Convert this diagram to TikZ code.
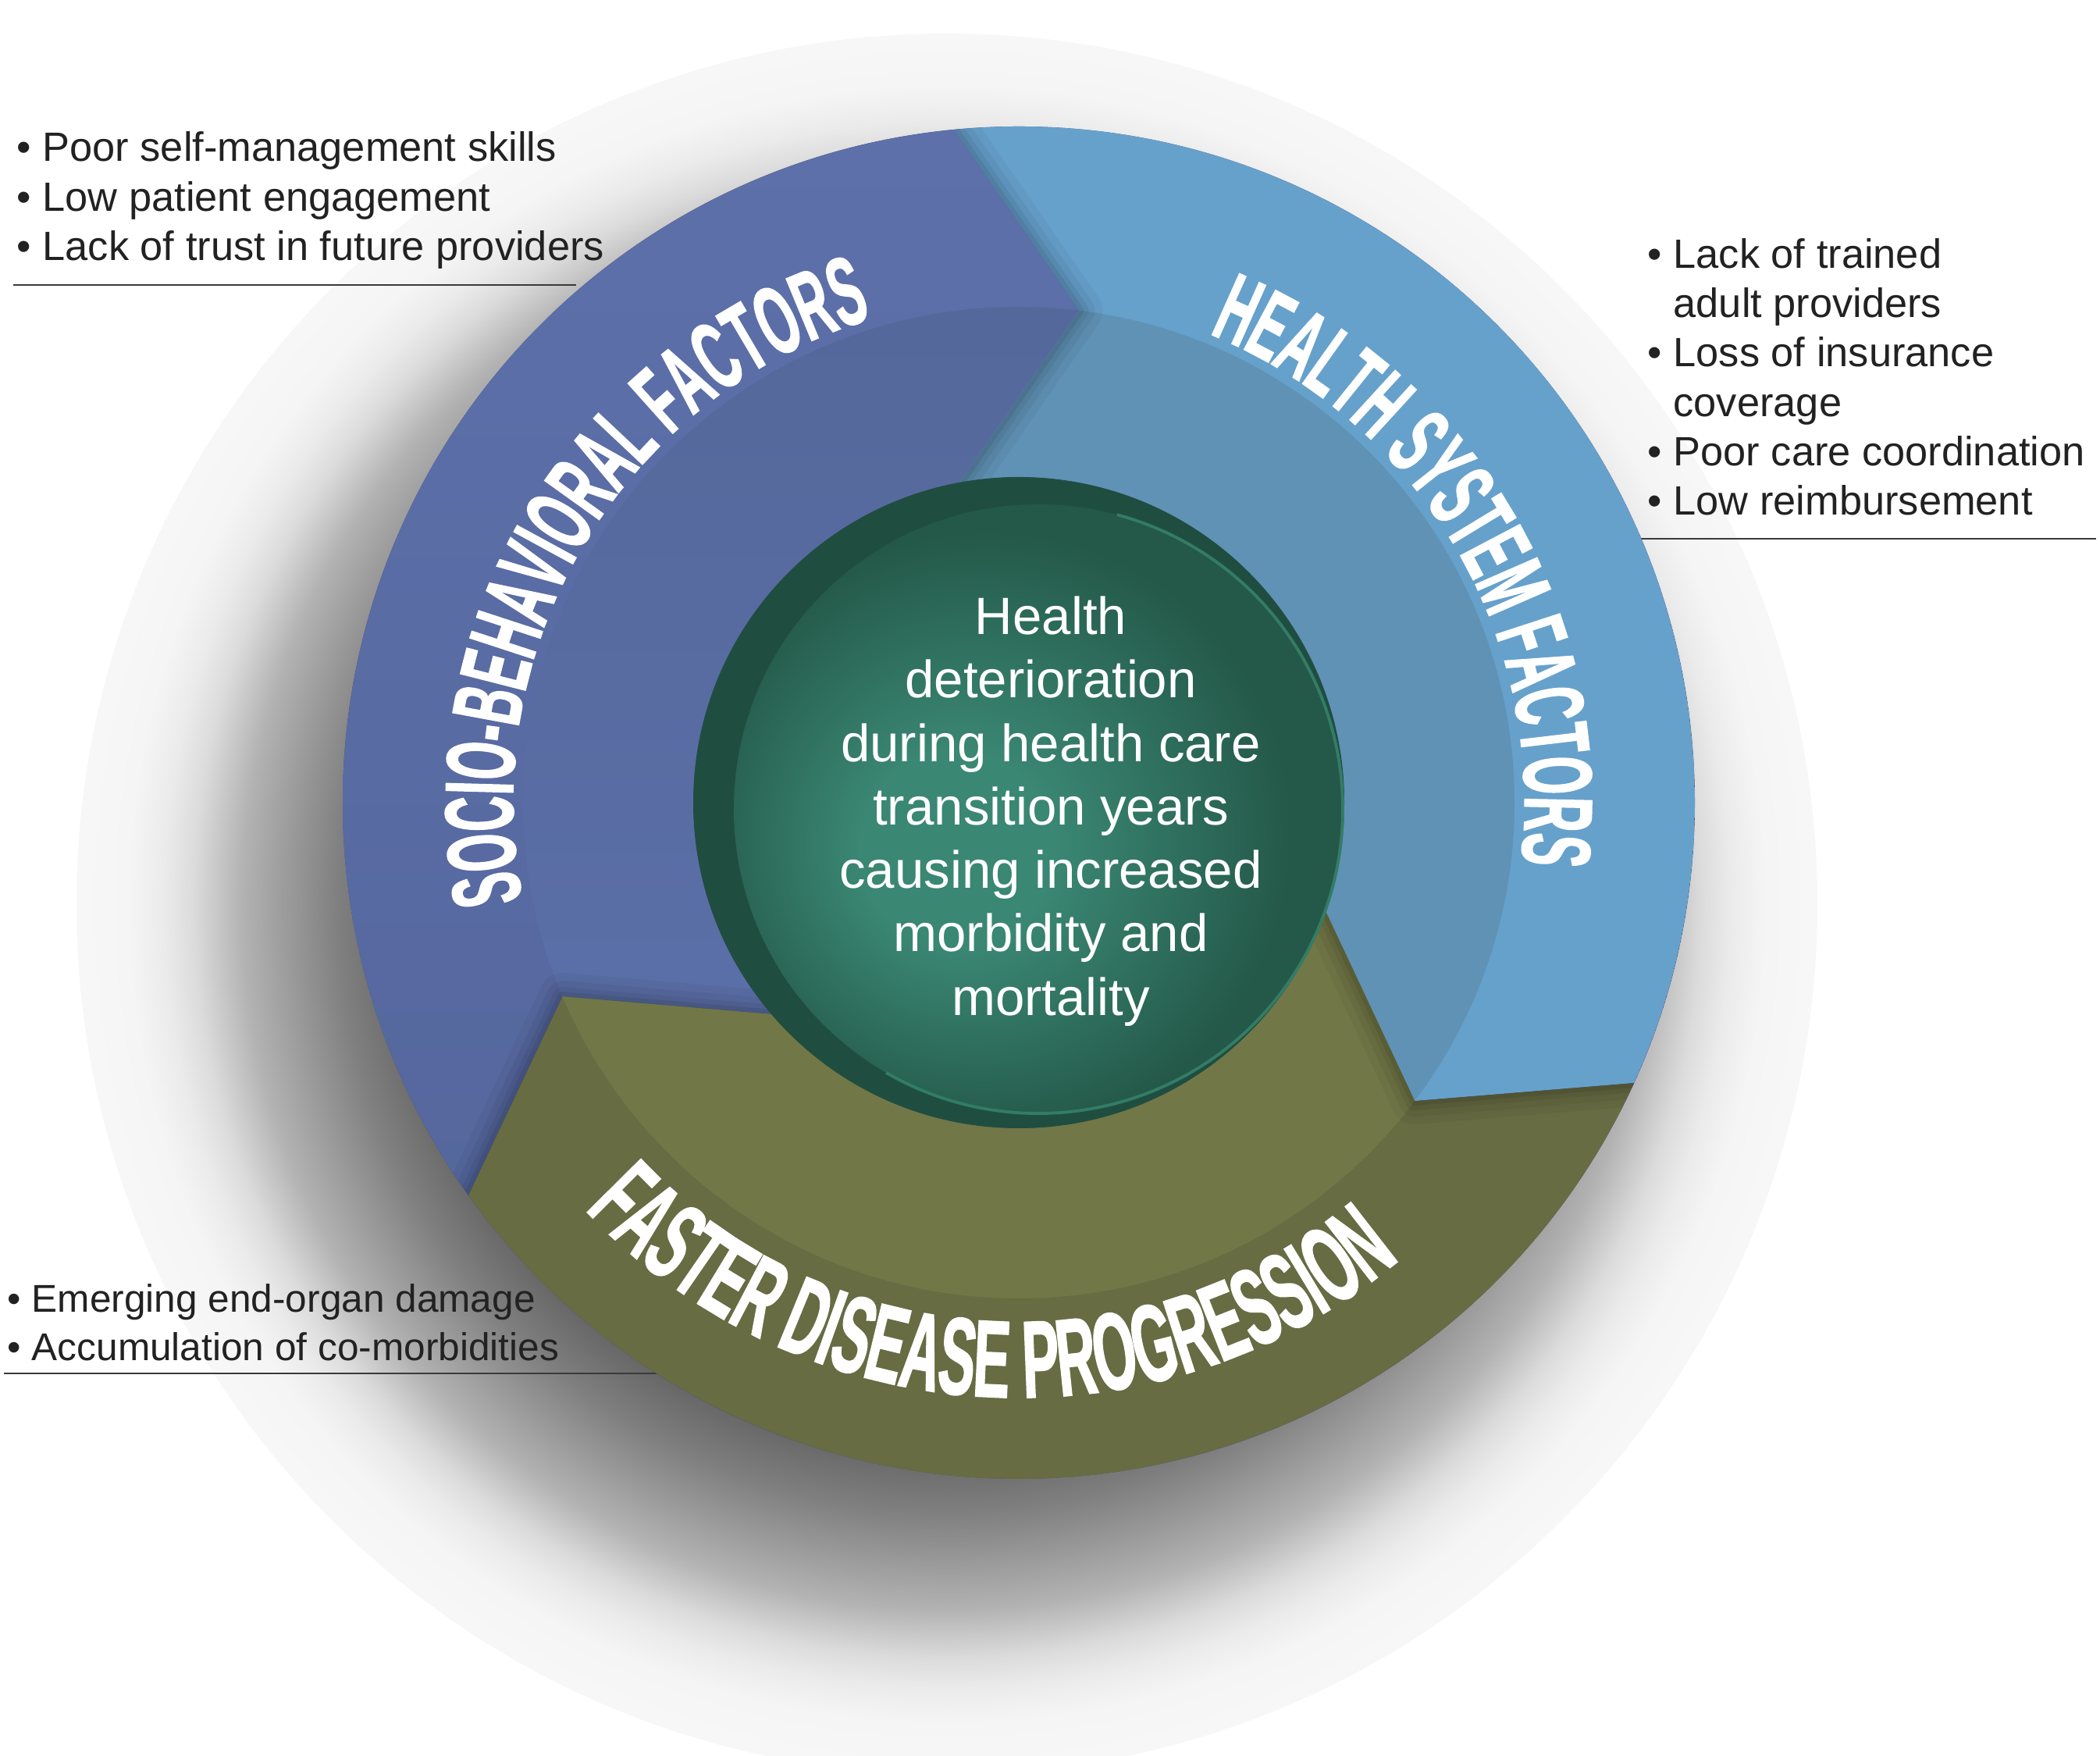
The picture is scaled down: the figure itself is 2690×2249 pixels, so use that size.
\documentclass[tikz,border=0pt]{standalone}
\usepackage{fontspec}
\setmainfont{Liberation Sans}
\newfontfamily\titlefont{Liberation Sans}[FakeStretch=0.5, FakeBold=1.2]
\usetikzlibrary{decorations.text}

\definecolor{socioOutTopC}{HTML}{5D70AA}
\definecolor{socioOutBotC}{HTML}{53659A}
\definecolor{socioInTopC}{HTML}{55689B}
\definecolor{socioInBotC}{HTML}{5D72AD}
\definecolor{healthOutC}{HTML}{66A1CC}
\definecolor{healthInC}{HTML}{6092B5}
\definecolor{fasterOutC}{HTML}{676C43}
\definecolor{fasterInC}{HTML}{717746}
\definecolor{coreRimC}{HTML}{1F4E41}
\definecolor{faceA}{HTML}{3A8773}
\definecolor{faceB}{HTML}{245849}
\definecolor{coreEdgeC}{HTML}{337C66}
\definecolor{listgray}{HTML}{222222}
\definecolor{rulegray}{HTML}{3A3A3A}

\pgfdeclareradialshading{ringshadow}{\pgfpoint{0bp}{0bp}}{color(0bp)=(black!65); color(15.75bp)=(black!60); color(17.5bp)=(black!50); color(20.25bp)=(black!30); color(21.65bp)=(black!14); color(22.5bp)=(black!8); color(23.5bp)=(black!4); color(25bp)=(black!3); color(50bp)=(black!3)}
\pgfdeclareradialshading{coreface}{\pgfpoint{-8bp}{-4bp}}{color(0bp)=(faceA); color(8bp)=(faceA); color(25bp)=(faceB); color(50bp)=(faceB)}

% one arrow segment of the ring, tail boundary at angle #1
\newcommand{\segpath}[1]{(#1:866) arc[start angle=#1, end angle=#1-120, radius=866] -- (#1-132.5:635) -- (#1-115:417) arc[start angle=#1-115, end angle=#1+5, radius=417] -- (#1-12.5:635) -- cycle}
\newcommand{\bandfont}{\titlefont\bfseries\fontsize{35.5}{36}\selectfont}
\newcommand{\bottomfont}{\titlefont\bfseries\fontsize{40}{40}\selectfont}

\begin{document}
\begin{tikzpicture}[
x=0.01cm, y=0.01cm,
listtext/.style={align=left, inner sep=0pt, anchor=north west, text=listgray},
coretext/.style={align=center, inner sep=0pt, text=white, font=\fontsize{19.1}{23.1}\selectfont},
rule/.style={draw=rulegray, line width=0.7pt},
socioOut/.style={top color=socioOutTopC, bottom color=socioOutBotC},
socioIn/.style={top color=socioInTopC, bottom color=socioInBotC},
healthOut/.style={fill=healthOutC},
healthIn/.style={fill=healthInC},
fasterOut/.style={fill=fasterOutC},
fasterIn/.style={fill=fasterInC}
]
\useasboundingbox (0,0) rectangle (2690,2249);
\fill[white] (0,0) rectangle (2690,2249);

% soft shadow behind the ring
\shade[shading=ringshadow] (1213,1091) circle (1115);

% rules under the lists
\coordinate (socio-rule-a) at (17,1884);
\coordinate (socio-rule-b) at (738,1884);
\coordinate (health-rule-a) at (2102,1559);
\coordinate (health-rule-b) at (2685,1559);
\coordinate (disease-rule-a) at (5,490);
\coordinate (disease-rule-b) at (849,490);
\draw[rule] (socio-rule-a) -- (socio-rule-b);
\draw[rule] (health-rule-a) -- (health-rule-b);
\draw[rule] (disease-rule-a) -- (disease-rule-b);

\coordinate (C) at (1305,1221);
\begin{scope}[shift={(C)}]
  \fill[black!55!blue!40!gray] (0,0) circle (866);
  \foreach \ang/\outc/\innc in {215.5/socioOut/socioIn, 95.5/healthOut/healthIn, -24.5/fasterOut/fasterIn} {
    \begin{scope}
      \clip \segpath{\ang};
      \path[\outc] (0,0) circle (866);
      \path[\innc] (0,0) circle (635);
    \end{scope}
  }
  % arrow heads cast a soft shadow on the next segment
  \foreach \ang in {215.5, 95.5, -24.5} {
    \begin{scope}
      \clip \segpath{\ang-120};
      \foreach \w/\o in {0.6cm/0.04, 0.4cm/0.05, 0.24cm/0.06, 0.12cm/0.07}
        \draw[black, opacity=\o, line width=\w, line join=round] (\ang-120:866) -- (\ang-132.5:635) -- (\ang-115:417);
    \end{scope}
  }

  % centre disc
  \fill[coreRimC] (0,0) circle (417);
  \shade[shading=coreface] (25,-8) circle (390);
  \draw[coreEdgeC, line width=1.1pt] ([shift={(25,-8)}]-120:390) arc[start angle=-120, end angle=75, radius=390];

  % titles along the ring
  \path[decorate, decoration={text along path, text align=center, text color=white,
    text={|\bandfont|SOCIO-BEHAVIORAL FACTORS}}]
    (200:648) arc[start angle=200, end angle=98, radius=648];
  \path[decorate, decoration={text along path, text align=center, text color=white,
    text={|\bandfont|HEALTH SYSTEM FACTORS}}]
    (81:648) arc[start angle=81, end angle=-20, radius=648];
  \path[decorate, decoration={text along path, text align=center, text color=white,
    text={|\bottomfont|FASTER DISEASE PROGRESSION}}]
    (210:762) arc[start angle=210, end angle=323, radius=762];
\end{scope}

\node[coretext] (core) at (1346,1210) {Health\\deterioration\\during health care\\transition years\\causing increased\\morbidity and\\mortality};

\node[listtext, font=\fontsize{14.9}{18.06}\selectfont] (socio-list) at (21,2081)
  {• Poor self-management skills\\• Low patient engagement\\• Lack of trust in future providers};
\node[listtext, font=\fontsize{14.9}{17.96}\selectfont] (health-list) at (2110,1944)
  {• Lack of trained\\\hphantom{• }adult providers\\• Loss of insurance\\\hphantom{• }coverage\\• Poor care coordination\\• Low reimbursement};
\node[listtext, font=\fontsize{14.1}{17.6}\selectfont] (disease-list) at (9,605)
  {• Emerging end-organ damage\\• Accumulation of co-morbidities};
\end{tikzpicture}
\end{document}
